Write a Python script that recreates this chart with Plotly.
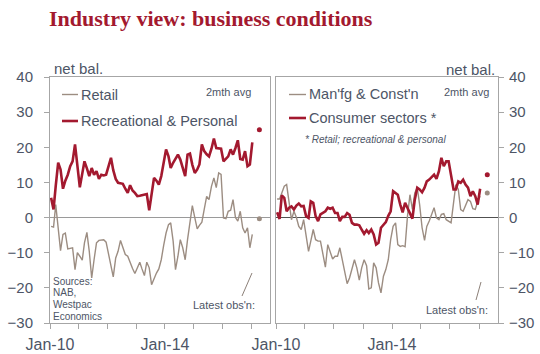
import pandas as pd
import plotly.graph_objects as go

# ---------------- data (monthly, Jan-10 .. Jan-17, 2-month avg) ----------------
dates = [d + pd.Timedelta(days=14) for d in pd.date_range("2010-01-01", periods=85, freq="MS")]
latest_date = pd.Timestamp("2017-04-15")

retail = [-2.5, -2.7, 3.7, -3.4, -9.4, -4.8, -4.4, -8.9, -8.7, -8.6,
          -14.8, -10, -11, -12.1, -7.2, -4.2, -9.6, -17.2, -12, -7.2,
          -6.5, -6.4, -6.3, -7, -10.5, -14, -16.9, -11.5, -9.6, -6.5,
          -8.2, -10.5, -11, -12.9, -14.5, -15.9, -14.3, -12.7, -14.6, -16.5,
          -12.7, -14.3, -19.1, -17.2, -15.8, -14.6, -12, -8, -4.4, -2,
          -1.5, -6.7, -14.8, -11, -6.3, -8.6, -12, -6.3, -0.6, 3.4,
          0, -3.2, -2.2, -1.3, 2.3, 6, 5.1, 8.9, 11.3, 8.5,
          12.7, 12.3, -0.1, -0.3, 1.8, 2.1, 5.1, 0, -1, 1.8,
          -2.9, -4.4, -2.9, -8.6, -4.8]
rec_personal = [5.6, 2.3, 9, 15.6, 13.7, 8.2, 10.5, 12.2, 14.6, 16,
                20.8, 14, 8.6, 12.5, 16, 14, 11.8, 14.1, 12.2, 13.2,
                11, 12.2, 12, 12.2, 14.5, 17, 13.5, 11, 9.9, 9.8,
                9.6, 8.2, 7, 9.2, 7.7, 7, 6.1, 6.2, 6.3, 6.5,
                6.7, 2.1, 7, 11.3, 10.5, 9.4, 11.8, 16, 19.4, 17.4,
                14.1, 15.6, 16.8, 17.9, 16.5, 14, 11.8, 17.9, 18.2, 15,
                12.7, 13.7, 15.1, 20.8, 18.9, 18, 17.4, 19.6, 22.5, 19.8,
                19.7, 19.6, 16, 16.8, 17.4, 19.4, 17.9, 19.8, 22, 16.7,
                16.5, 18.9, 14.6, 15.1, 21.4]
manuf_const = [5.3, 5.3, 7, 8.9, 9.4, 4.5, -0.6, 1.8, 0, -2.5,
               -3.4, -0.6, -5.3, -9.6, -6.7, -3.4, -6.3, -6.7, -6.7, -10,
               -14.1, -7.7, -9.6, -11.8, -11, -11, -8.6, -12.4, -15.7, -18.8,
               -17.2, -14.3, -12, -14.3, -17.8, -14.3, -12, -13.7, -20.3, -20,
               -12.9, -14.3, -18.6, -21.4, -16.7, -14.8, -12, -6.3, -2.5, -1.5,
               -7.7, -8.2, -8, -8.3, 0.4, 6.5, 2.3, 7, 8.5, 3.7,
               -2.9, -6.5, -2.5, -1, 1.1, 2.8, -0.1, -0.6, 0.9, 1.1,
               -0.6, -1, -1.5, 4.2, 9.4, 8, 2.3, 1.8, 3.2, 5.1,
               4.6, 2.5, 2.3, 4.6, 6.1]
consumer = [1.5, -0.4, 6.3, 5.6, 1.8, 2.8, 3.2, 2.3, 3.4, 4,
            3.2, 3.3, 0.4, -0.1, 4.6, 4.2, 0.4, -1, 0.9, 1.3,
            1.8, 2.8, 2.5, 2.8, 1.3, 1.3, -1, 0.2, 0.2, 1.3,
            0.8, -1.5, -2, -2, -2.2, -3.4, -4.6, -3.6, -4.4, -3.4,
            -4.8, -7.7, -7.2, -2.9, -2, -1.3, 0.5, 1.8, 7.5, 7,
            6.5, 3.7, 1.5, 4.2, 2.8, 1.2, -0.3, 5.1, 8.5, 8,
            7.2, 8.5, 10.3, 10.8, 11.5, 12.2, 11, 13.2, 17, 14.6,
            16, 16, 12, 8, 8, 10.3, 9.9, 10.8, 9.4, 8.5,
            6.1, 7.5, 6.1, 3.7, 8.2]
latest_left = {"Retail": -0.3, "Recreational & Personal": 25}
latest_right = {"Man'fg & Const'n": 7.0, "Consumer sectors *": 12.2}

tick_dates = [f"{y}-01-01" for y in range(2010, 2018)]
tick_text = ["Jan-10", "", "", "", "Jan-14", "", "", ""]
y_range = [-30, 40]
x_range = ["2010-01-01", "2017-08-28"]

# ---------------- style ----------------
W, H = 540, 354
ML, MR, MT, MB = 50, 42, 77, 31
PW, PH = W - ML - MR, H - MT - MB
RED = "#A3192F"
GREY = "#9C8D82"
TXT = "#4D5566"
BOX = "#A6A6A6"
FONT = "Liberation Sans, Arial, sans-serif"


def px(x):
    return (x - ML) / PW


def py(y):
    return (H - MB - y) / PH


fig = go.Figure()
fig.add_trace(go.Scatter(x=dates, y=retail, mode="lines", line=dict(color=GREY, width=1.4),
                         xaxis="x", yaxis="y", name="Retail"))
fig.add_trace(go.Scatter(x=dates, y=rec_personal, mode="lines", line=dict(color=RED, width=2.6),
                         xaxis="x", yaxis="y", name="Recreational & Personal"))
fig.add_trace(go.Scatter(x=[latest_date, latest_date], y=list(latest_left.values()), mode="markers",
                         marker=dict(color=[GREY, RED], size=5), xaxis="x", yaxis="y"))
fig.add_trace(go.Scatter(x=dates, y=manuf_const, mode="lines", line=dict(color=GREY, width=1.4),
                         xaxis="x2", yaxis="y2", name="Man'fg & Const'n"))
fig.add_trace(go.Scatter(x=dates, y=consumer, mode="lines", line=dict(color=RED, width=2.6),
                         xaxis="x2", yaxis="y2", name="Consumer sectors *"))
fig.add_trace(go.Scatter(x=[latest_date, latest_date], y=list(latest_right.values()), mode="markers",
                         marker=dict(color=[GREY, RED], size=5), xaxis="x2", yaxis="y2"))

xcommon = dict(type="date", range=x_range, tickmode="array", tickvals=tick_dates, ticktext=tick_text,
               ticks="outside", ticklen=5, tickcolor=BOX, showline=True, linecolor=BOX, linewidth=1,
               mirror=True, showgrid=False, zeroline=False, automargin=False, ticklabelstandoff=2,
               tickfont=dict(size=16, color=TXT, family=FONT))
ycommon = dict(range=y_range, dtick=10, tick0=0, ticks="outside", ticklen=5, tickcolor=BOX,
               showline=True, linecolor=BOX, linewidth=1, mirror=True, showgrid=False,
               zeroline=True, zerolinewidth=1, automargin=False,
               tickfont=dict(size=15, color=TXT, family=FONT))

fig.update_layout(
    width=W, height=H, margin=dict(l=ML, r=MR, t=MT, b=MB),
    paper_bgcolor="white", plot_bgcolor="white", showlegend=False,
    font=dict(family=FONT, color=TXT),
    xaxis=dict(domain=[0, px(270)], anchor="y", **xcommon),
    yaxis=dict(domain=[0, 1], anchor="x", side="left", zerolinecolor="#9A9A9A",
               ticklabelstandoff=8, **ycommon),
    xaxis2=dict(domain=[px(276), 1], anchor="y2", **xcommon),
    yaxis2=dict(domain=[0, 1], anchor="x2", side="right", zerolinecolor="#505050",
                ticklabelstandoff=2, **ycommon),
    title=dict(text="<b>Industry view: business conditions</b>", x=49 / W, xanchor="left",
               xref="container", y=1 - 18 / H, yref="container", yanchor="middle",
               font=dict(family="Liberation Serif, Times New Roman, serif", size=22, color=RED)),
)

ann = []


def text(t, x, y, xa="left", size=14.5, color=TXT, italic=False):
    if italic:
        t = f"<i>{t}</i>"
    ann.append(dict(text=t, x=px(x), y=py(y), xref="paper", yref="paper", xanchor=xa,
                    yanchor="middle", showarrow=False, font=dict(size=size, color=color, family=FONT)))


text("net bal.", 52, 68, size=15)
text("net bal.", 497, 69, xa="right", size=15)
text("Retail", 79, 95)
text("Recreational & Personal", 79, 121)
text("2mth avg", 253, 92, xa="right", size=11)
text("Man'fg & Const'n", 307, 94)
text("Consumer sectors *", 307, 117.5)
text("2mth avg", 491, 92, xa="right", size=11)
text("* Retail; recreational & personal", 303, 139, size=10, italic=True)
for i, line in enumerate(["Sources:", "NAB,", "Westpac", "Economics"]):
    text(line, 51, 281 + i * 11.7, size=10)
text("Latest obs'n:", 257, 305, xa="right", size=11)
text("Latest obs'n:", 490, 310, xa="right", size=11)
fig.update_layout(annotations=ann)

shapes = []


def seg(x0, y0, x1, y1, color, width):
    shapes.append(dict(type="line", xref="paper", yref="paper", x0=px(x0), y0=py(y0), x1=px(x1),
                       y1=py(y1), line=dict(color=color, width=width)))


seg(62, 94.5, 78, 94.5, GREY, 1.4)
seg(62, 121, 78, 121, RED, 2.6)
seg(289, 94.5, 306, 94.5, GREY, 1.4)
seg(289, 118, 306, 118, RED, 2.6)
seg(242, 296, 252, 273, "#8C8078", 1)
seg(476, 300, 481, 282, "#8C8078", 1)
fig.update_layout(shapes=shapes)

fig.write_html("out.html")
